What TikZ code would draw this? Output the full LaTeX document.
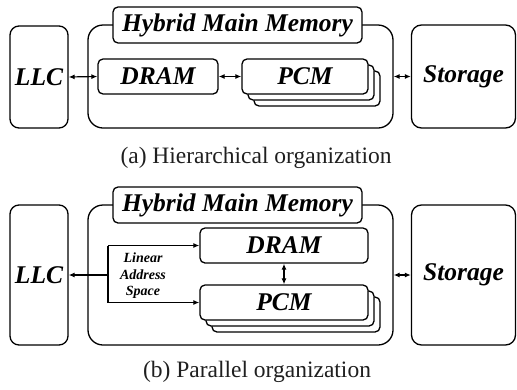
\documentclass[tikz,border=0pt]{standalone}
\usepackage{fontspec}
\setmainfont{Liberation Serif}
\usetikzlibrary{arrows.meta,positioning,calc}
\tikzset{
  box/.style={draw, line width=1.3pt, fill=white, inner sep=0pt, rounded corners=#1},
  box/.default=5pt,
  bi/.style={font=\bfseries\itshape\fontsize{25.5}{30}\selectfont},
  lastext/.style={font=\bfseries\itshape\fontsize{14}{16.5}\selectfont, align=center},
  captext/.style={font=\fontsize{23.5}{28}\selectfont, text=black!88},
  dbl/.style={line width=1.2pt, {Latex[length=6pt,width=5pt]}-{Latex[length=6pt,width=5pt]}},
  one/.style={line width=1.2pt, -{Latex[length=6pt,width=5pt]}},
  plain/.style={line width=1.2pt}
}
\begin{document}
\begin{tikzpicture}[x=1pt,y=-1pt]
\useasboundingbox (0,0) rectangle (517,389);
% ---------- (a) Hierarchical ----------
\node[box=9pt, minimum width=58pt, minimum height=102pt, bi] (llcA) at (39,77) {LLC};
\node[box=15pt, minimum width=305pt, minimum height=103pt] (hmmA) at (240.5,76.5) {};
\node[box=5pt, minimum width=249pt, minimum height=36pt, bi] (titA) at (237.5,25) {Hybrid Main Memory};
\node[box=5pt, minimum width=120pt, minimum height=35pt, bi] (dramA) at (158,76.5) {DRAM};
\node[box=5pt, minimum width=126pt, minimum height=35pt] (pcmA3) at (317,88.5) {};
\node[box=5pt, minimum width=126pt, minimum height=35pt] (pcmA2) at (311,82.5) {};
\node[box=5pt, minimum width=126pt, minimum height=35pt, bi] (pcmA) at (305,76.5) {PCM};
\node[box=10pt, minimum width=104pt, minimum height=103pt, bi] (stoA) at (463.5,76.5) {Storage};
\draw[dbl] (llcA.east) -- (dramA.west);
\draw[dbl] (dramA.east) -- (pcmA.west);
\draw[dbl] (hmmA.east) -- (stoA.west);
\node[captext] (capA) at (256,158) {(a) Hierarchical organization};
% ---------- (b) Parallel ----------
\node[box=9pt, minimum width=58pt, minimum height=140pt, bi] (llcB) at (39,275) {LLC};
\node[box=15pt, minimum width=305pt, minimum height=140pt] (hmmB) at (240.5,275) {};
\node[box=5pt, minimum width=249pt, minimum height=36pt, bi] (titB) at (237.5,205) {Hybrid Main Memory};
\node[box=5pt, minimum width=168pt, minimum height=35pt, bi] (dramB) at (284,245.5) {DRAM};
\node[box=5pt, minimum width=168pt, minimum height=35pt] (pcmB3) at (296,314.5) {};
\node[box=5pt, minimum width=168pt, minimum height=35pt] (pcmB2) at (290,308.5) {};
\node[box=5pt, minimum width=168pt, minimum height=35pt, bi] (pcmB) at (284,302.5) {PCM};
\node[box=10pt, minimum width=104pt, minimum height=140pt, bi] (stoB) at (463.5,275) {Storage};
\coordinate (jn) at (108,275);
\draw[one] (jn) -- (llcB.east);
\draw[plain] (jn |- dramB.west) -- (jn |- pcmB.west);
\draw[one] (jn |- dramB.west) -- (dramB.west);
\draw[one] (jn |- pcmB.west) -- (pcmB.west);
\node[lastext] (las) at (143,276) {Linear\\Address\\Space};
\draw[dbl] (dramB.south) -- (pcmB.north);
\draw[dbl] (hmmB.east) -- (stoB.west);
\node[captext] (capB) at (257,372) {(b) Parallel organization};
\end{tikzpicture}
\end{document}
